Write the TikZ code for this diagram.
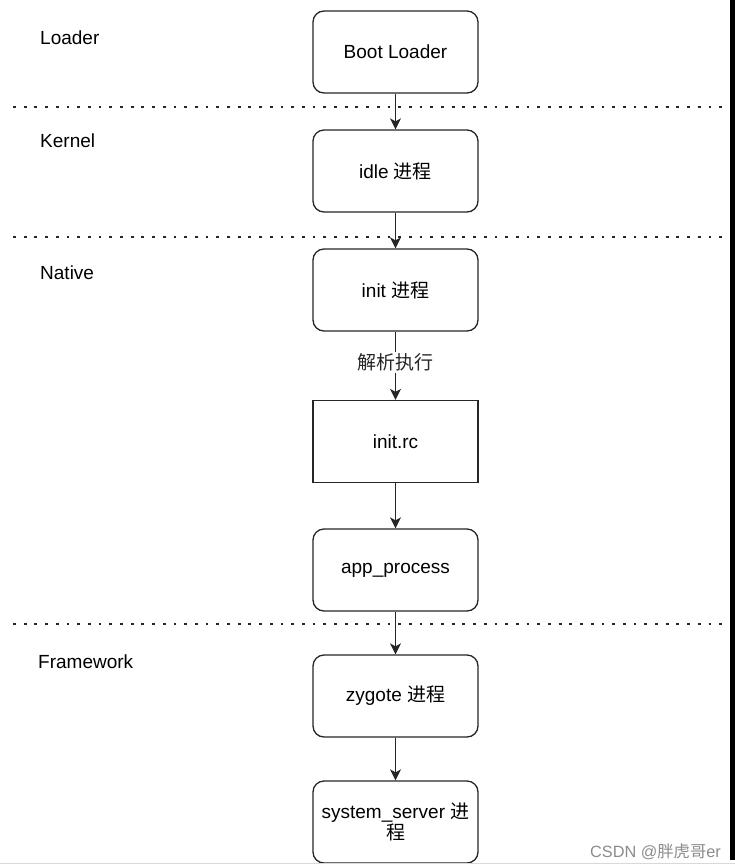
\documentclass[tikz,border=0pt]{standalone}
\usepackage{fontspec}
\setmainfont{Liberation Sans}
\newfontfamily\cjk{Noto Sans CJK SC}
\usetikzlibrary{arrows.meta}
\begin{document}
\begin{tikzpicture}[x=1pt,y=-1pt,
  box/.style={draw=black!85, line width=1.3pt, rounded corners=11pt,
    minimum width=165pt, minimum height=82pt,
    font=\fontsize{19}{22}\selectfont, align=center, inner sep=2pt},
  sqbox/.style={box, rounded corners=0pt},
  lay/.style={anchor=west, font=\fontsize{19}{22}\selectfont, inner sep=0pt},
  sep/.style={line width=2.8pt, dash pattern=on 2.8pt off 7.9pt, black!85},
  arr/.style={line width=1.3pt, black!85, -{Stealth[length=11pt,width=11pt,inset=3pt]}}]
\fill[white] (0,0) rectangle (735,868);
\useasboundingbox (0,0) rectangle (735,868);

% layer separators
\draw[sep] (13,107) -- (725,107);
\draw[sep] (13,237) -- (725,237);
\draw[sep] (13,624) -- (725,624);

% layer labels
\node[lay] (lLoader) at (40,38) {Loader};
\node[lay] (lKernel) at (40,141) {Kernel};
\node[lay] (lNative) at (40,273) {Native};
\node[lay] (lFramework) at (38,662) {Framework};

% boxes
\node[box] (boot) at (395.5,52) {Boot Loader};
\node[box] (idle) at (395.5,171) {idle {\cjk 进程}};
\node[box] (init) at (395.5,290) {init {\cjk 进程}};
\node[sqbox] (initrc) at (395.5,441.5) {init.rc};
\node[box] (app) at (395.5,570) {app\_process};
\node[box] (zygote) at (395.5,696) {zygote {\cjk 进程}};
\node[box] (sys) at (395.5,822) {system\_server {\cjk 进}\\[-1pt]{\cjk 程}};

% connectors
\draw[arr] (boot) -- (idle);
\draw[arr] (idle) -- (init);
\draw[arr] (init) -- node[pos=0.45, fill=white, inner sep=2pt, font=\fontsize{19}{22}\selectfont] (lbl) {\cjk 解析执行} (initrc);
\draw[arr] (initrc) -- (app);
\draw[arr] (app) -- (zygote);
\draw[arr] (zygote) -- (sys);

% watermark
\node[anchor=base east, text=black!45, font=\fontsize{16.3}{18}\selectfont, inner sep=0pt] (wm) at (721,857) {CSDN @{\cjk 胖虎哥}er};

% screenshot edges
\fill[black] (730,0) rectangle (735,860);
\draw[black!15, line width=1.2pt] (0,863.5) -- (735,863.5);
\end{tikzpicture}
\end{document}
